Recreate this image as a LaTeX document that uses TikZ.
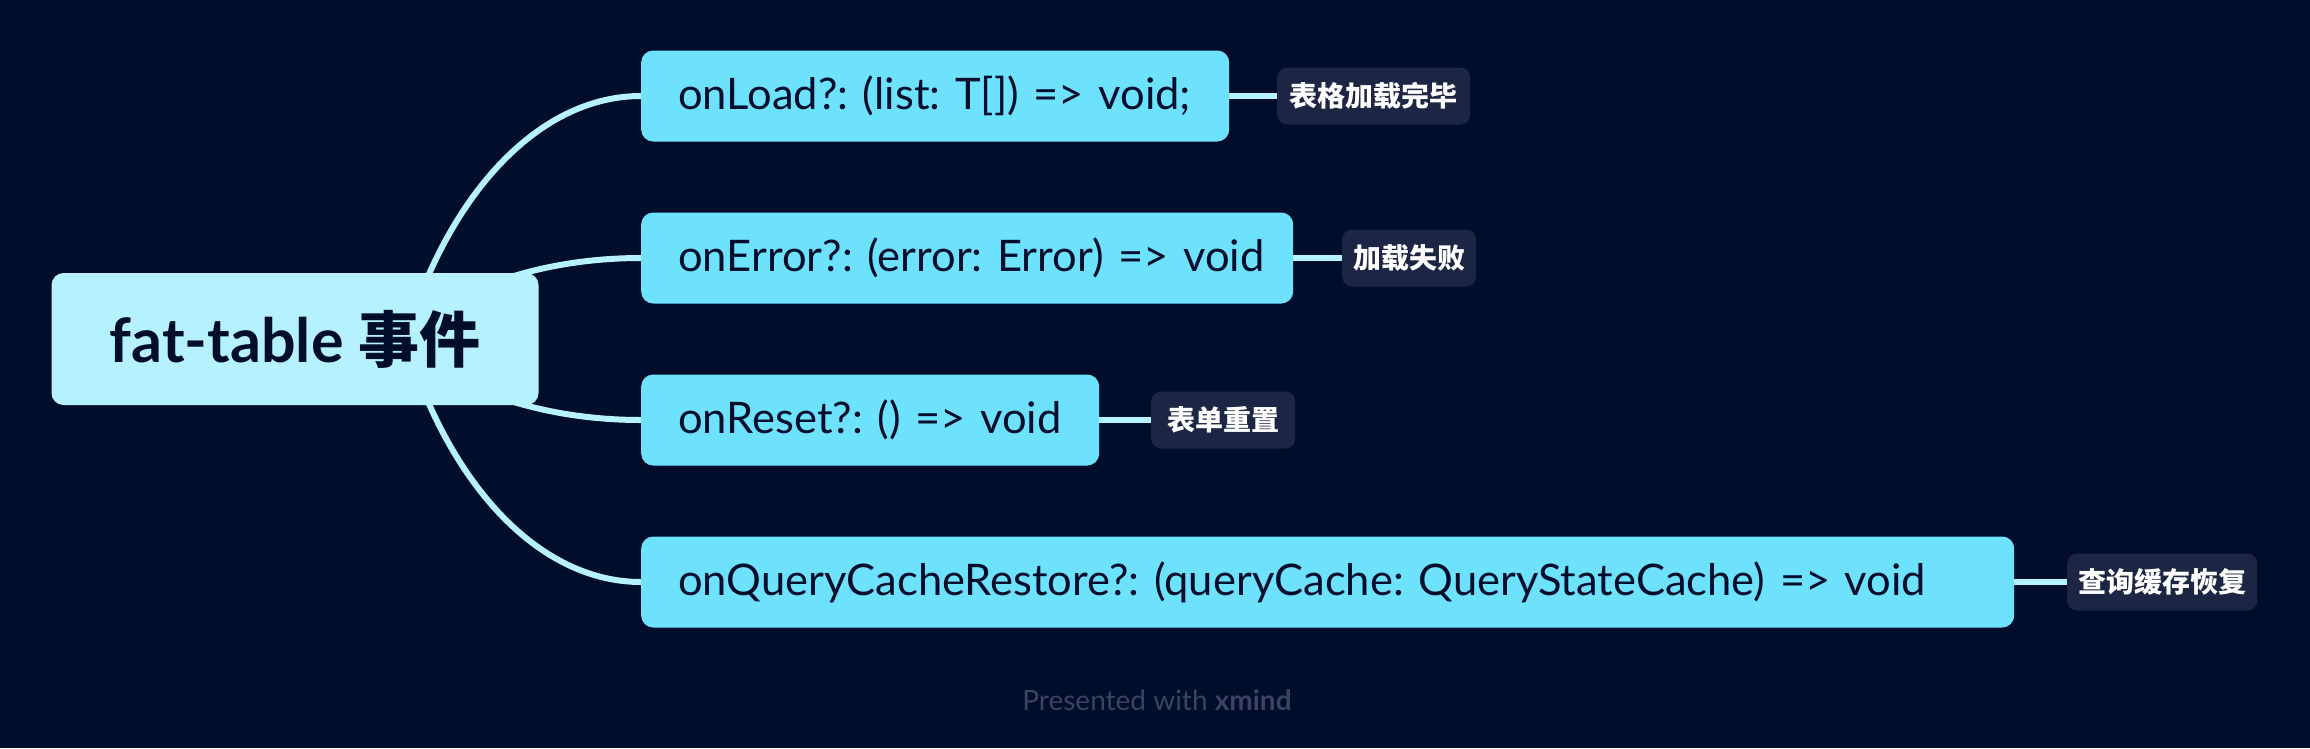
\documentclass[tikz,border=0pt]{standalone}
\usepackage{fontspec}
\setmainfont{Lato}
\newfontfamily\cjk{Noto Sans CJK SC}
\usepackage{xcolor}
\definecolor{mmnavy}{RGB}{0,14,44}
\definecolor{mmroot}{RGB}{181,242,253}
\definecolor{mmcyan}{RGB}{110,226,252}
\definecolor{mmnote}{RGB}{28,38,68}
\definecolor{mmgray}{RGB}{58,68,98}
\usepackage{tikz}
\usetikzlibrary{positioning}
\frenchspacing
\pgfdeclarelayer{back}
\pgfdeclarelayer{links}
\pgfsetlayers{back,links,main}
\tikzset{
  rootbox/.style={fill=mmroot, rounded corners=12pt, minimum width=487pt, minimum height=132pt,
    text=mmnavy, font=\fontsize{61}{66}\selectfont\bfseries},
  eventbox/.style={fill=mmcyan, rounded corners=12pt, minimum height=91pt, anchor=west,
    inner xsep=37pt, align=left, text=mmnavy, font=\fontsize{43.5}{48}\selectfont},
  notebox/.style={fill=mmnote, rounded corners=10pt, minimum height=57pt, anchor=west,
    text=white, font=\fontsize{28}{32}\selectfont\cjk\bfseries},
  branch/.style={draw=mmroot, line width=6pt},
}

\begin{document}
\begin{tikzpicture}[x=1pt, y=-1pt]
      \useasboundingbox (0,0) rectangle (2310,748);
      \begin{pgfonlayer}{back}
        \fill[mmnavy] (0,0) rectangle (2310,748);
      \end{pgfonlayer}
      % Central topic
      \node[rootbox] (root) at (295,339) {fat-table {\cjk 事件}};
      % Events
      \node[eventbox, text width=514pt] (load) at (641,96) {\mbox{onLoad?: (list: T[]) => void;}};
      \node[eventbox, text width=578pt] (error) at (641,258) {\mbox{onError?: (error: Error) => void}};
      \node[eventbox, text width=384pt] (reset) at (641,420) {\mbox{onReset?: () => void}};
      \node[eventbox, text width=1299pt] (restore) at (641,582) {\mbox{onQueryCacheRestore?: (queryCache: QueryStateCache) => void}};
      % Notes
      \node[notebox, minimum width=193pt] (loadnote) at (1277,96) {表格加载完毕};
      \node[notebox, minimum width=134pt] (errornote) at (1342,258) {加载失败};
      \node[notebox, minimum width=144pt] (resetnote) at (1151,420) {表单重置};
      \node[notebox, minimum width=190pt] (restorenote) at (2067,582) {查询缓存恢复};
      % Branches
      \begin{pgfonlayer}{links}
        \draw[branch] ([xshift=110pt]root.center) .. controls +(45,-149) and +(-100,0) .. (load.west);
        \draw[branch] ([xshift=110pt]root.center) .. controls +(45,-50) and +(-100,0) .. (error.west);
        \draw[branch] ([xshift=110pt]root.center) .. controls +(45,50) and +(-100,0) .. (reset.west);
        \draw[branch] ([xshift=110pt]root.center) .. controls +(45,149) and +(-100,0) .. (restore.west);
        \draw[branch] (load.east) -- (loadnote.west);
        \draw[branch] (error.east) -- (errornote.west);
        \draw[branch] (reset.east) -- (resetnote.west);
        \draw[branch] (restore.east) -- (restorenote.west);
      \end{pgfonlayer}
      % Footer
      \node[font=\fontsize{28}{32}\selectfont, text=mmgray] (credit) at (1157,700) {Presented with \textbf{xmind}};
\end{tikzpicture}
\end{document}
